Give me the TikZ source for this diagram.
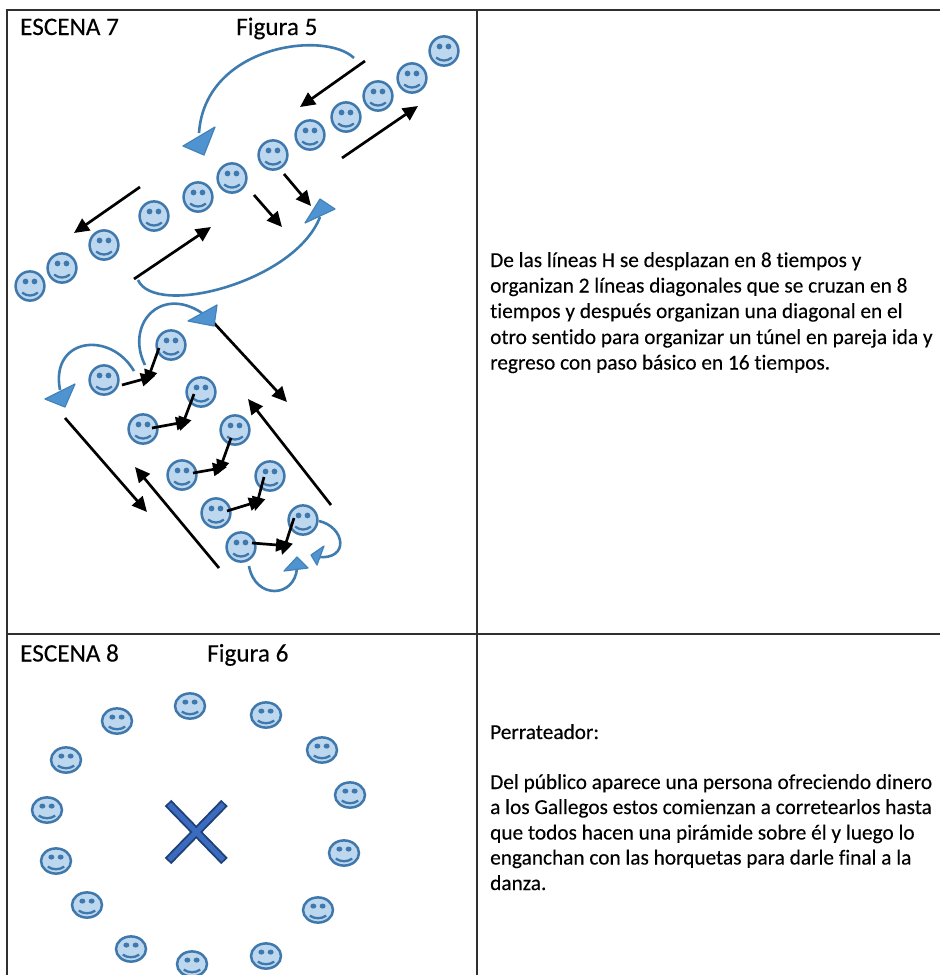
\documentclass[tikz,border=0pt]{standalone}
\usepackage{fontspec}
\setmainfont[Ligatures={NoCommon,TeX},FakeBold=0.2]{Carlito}
\usetikzlibrary{arrows.meta,shapes.geometric}
\definecolor{facefill}{HTML}{BDD7EE}
\definecolor{faceline}{HTML}{3F78AC}
\definecolor{headfill}{HTML}{4F94D0}
\definecolor{curveline}{HTML}{3E7CB0}
\definecolor{rule}{HTML}{303030}
\definecolor{crossrim}{HTML}{1F3F78}
\definecolor{crossfill}{HTML}{3A6BBF}
\tikzset{
  x=1pt,y=-1pt,
  facebody/.style={draw=faceline,fill=facefill,ellipse,line width=2.5pt,inner sep=0pt},
  blk/.style={line width=2.7pt,black,-{Triangle[length=15pt,width=14pt]}},
  blksmall/.style={line width=2.7pt,black,-{Triangle[length=14pt,width=13pt]}},
  curve/.style={line width=2.6pt,curveline},
  bluehead/.style={draw=curveline!70!headfill,fill=headfill,line width=1.2pt,line join=round},
  gridline/.style={line width=1.5pt,rule},
  title/.style={font=\fontsize{25.2}{27}\selectfont,anchor=base west,inner sep=0pt},
  body/.style={font=\fontsize{21.3}{25}\selectfont,anchor=base west,inner sep=0pt},
}
% name, x, y, half width, half height
\newcommand\smiley[5]{%
  \node[facebody,minimum width=#4*2pt,minimum height=#5*2pt] (#1) at (#2,#3) {};
  \fill[faceline] ([shift={(-0.31*#4,-0.31*#5)}]#1.center) ellipse ({0.2*#4} and {0.2*#5});
  \fill[faceline] ([shift={(0.31*#4,-0.31*#5)}]#1.center) ellipse ({0.2*#4} and {0.2*#5});
  \draw[faceline,line width=2.3pt] ([shift={(-0.55*#4,0.45*#5)}]#1.center)
     .. controls ([shift={(-0.2*#4,0.72*#5)}]#1.center) and ([shift={(0.2*#4,0.72*#5)}]#1.center) ..
     ([shift={(0.55*#4,0.45*#5)}]#1.center);
}
\begin{document}
\begin{tikzpicture}
\useasboundingbox[fill=white] (0,0) rectangle (940,975);
% table rules
\coordinate (tl) at (7,10); \coordinate (tr) at (940,10);
\coordinate (bl) at (7,975); \coordinate (ml) at (7,634); \coordinate (mr) at (940,634);
\coordinate (vt) at (477,10); \coordinate (vb) at (477,975);
\draw[gridline] (bl) -- (tl) -- (tr);
\draw[gridline] (ml) -- (mr);
\draw[gridline] (vt) -- (vb);
% titles
\node[title] (t7) at (20,35) {ESCENA 7};
\node[title] (f5) at (236,35) {Figura 5};
\node[title] (t8) at (20,661.5) {ESCENA 8};
\node[title] (f6) at (207,661.5) {Figura 6};
% text
\node[body] (a1) at (490,267) {De las líneas H se desplazan en 8 tiempos y};
\node[body] (a2) at (490,292.5) {organizan 2 líneas diagonales que se cruzan en 8};
\node[body] (a3) at (490,318) {tiempos y después organizan una diagonal en el};
\node[body] (a4) at (490,344) {otro sentido para organizar un túnel en pareja ida y};
\node[body] (a5) at (490,369.5) {regreso con paso básico en 16 tiempos.};
\node[body] (b0) at (490,739) {Perrateador:};
\node[body] (b1) at (490,789) {Del público aparece una persona ofreciendo dinero};
\node[body] (b2) at (490,814) {a los Gallegos estos comienzan a corretearlos hasta};
\node[body] (b3) at (490,839.5) {que todos hacen una pirámide sobre él y luego lo};
\node[body] (b4) at (490,864.5) {enganchan con las horquetas para darle final a la};
\node[body] (b5) at (490,890) {danza.};
% faces, scene 7
\foreach \n/\x/\y in {1/444/51,2/412/78,3/378/96,4/346/117,5/310/135,6/273/155,7/232/178,8/198/197,9/154/216,10/104/245,11/62/268,12/30/286,
  13/171/345,14/104/380,15/201/392,16/143/429,17/235/430,18/182/475,19/270/476,20/216/513,21/303/520,22/241/547}
  {\smiley{s\n}{\x}{\y}{14.4}{14.6}}
% faces, scene 8
\foreach \n/\x/\y in {1/190/706,2/117/721,3/266/715,4/66/760,5/322/750,6/47/810,7/350/795,8/56/861,9/344/853,10/87/905,11/318/910,12/131/949,13/192/964,14/266/956}
  {\smiley{c\n}{\x}{\y}{15}{12.6}}
% cross
\coordinate (xa) at (168,803); \coordinate (xb) at (224.5,861);
\coordinate (xc) at (224.5,803); \coordinate (xd) at (168,861);
\foreach \p/\q in {xa/xb,xc/xd}{
  \draw[line width=9pt,crossrim] (\p) -- (\q);
}
\foreach \p/\q in {xa/xb,xc/xd}{
  \draw[line width=5.2pt,crossfill,shorten >=1.7pt,shorten <=1.7pt] (\p) -- (\q);
}
% long black arrows
\foreach \n/\ax/\ay/\bx/\by in {1/365/61/300/107,2/342/158/418/106,3/140/187/74/233,4/134/279/211/227,5/254/195/282/227,6/284/174/311/206,
   7/214/323/287/402,8/331/505/248/399,9/65/418/147/512,10/219/568/135/467}{
  \coordinate (la\n) at (\ax,\ay); \coordinate (lb\n) at (\bx,\by);
  \draw[blk] (la\n) -- (lb\n);
}
% short pairs
\foreach \n/\ax/\ay/\bx/\by in {1/122/385/155/376,2/159/348/146/384,3/152/428/190/421,4/194/394/180/431,5/193/473/227/467,6/231/438/218/474,
   7/227/511/263/500,8/264/477/255/511,9/252/543/290/546,10/294/518/282/555}{
  \coordinate (pa\n) at (\ax,\ay); \coordinate (pb\n) at (\bx,\by);
  \draw[blksmall] (pa\n) -- (pb\n);
}
% blue curves
\coordinate (c1a) at (354,58); \coordinate (c1b) at (199,133);
\draw[curve] (c1a) .. controls (325,30) and (205,45) .. (c1b);
\draw[bluehead] (215,127) -- (183,146) -- (204,155) -- cycle;
\coordinate (c2a) at (138,280); \coordinate (c2b) at (320,217);
\draw[curve] (c2a) .. controls (155,318) and (295,282) .. (c2b);
\draw[bluehead] (320,199) -- (335,209) -- (305,223) -- cycle;
\coordinate (c3a) at (145,365); \coordinate (c3b) at (202,313);
\draw[curve] (c3a) .. controls (125,325) and (160,285) .. (c3b);
\draw[bluehead] (217,305) -- (188,321) -- (214,326) -- cycle;
\coordinate (c4a) at (134,371); \coordinate (c4b) at (60,390);
\draw[curve] (c4a) .. controls (110,330) and (50,338) .. (c4b);
\draw[bluehead] (75,384) -- (45,399) -- (65,407) -- cycle;
\coordinate (c5a) at (249,566); \coordinate (c5b) at (297,568);
\draw[curve] (c5a) .. controls (255,600) and (295,598) .. (c5b);
\draw[bluehead] (297,557) -- (308,568) -- (284,571) -- cycle;
\coordinate (c6a) at (319,521); \coordinate (c6b) at (318,557);
\draw[curve] (c6a) .. controls (345,527) and (350,560) .. (c6b);
\draw[bluehead] (324,546) -- (311,555) -- (317,565) -- cycle;
\end{tikzpicture}
\end{document}
